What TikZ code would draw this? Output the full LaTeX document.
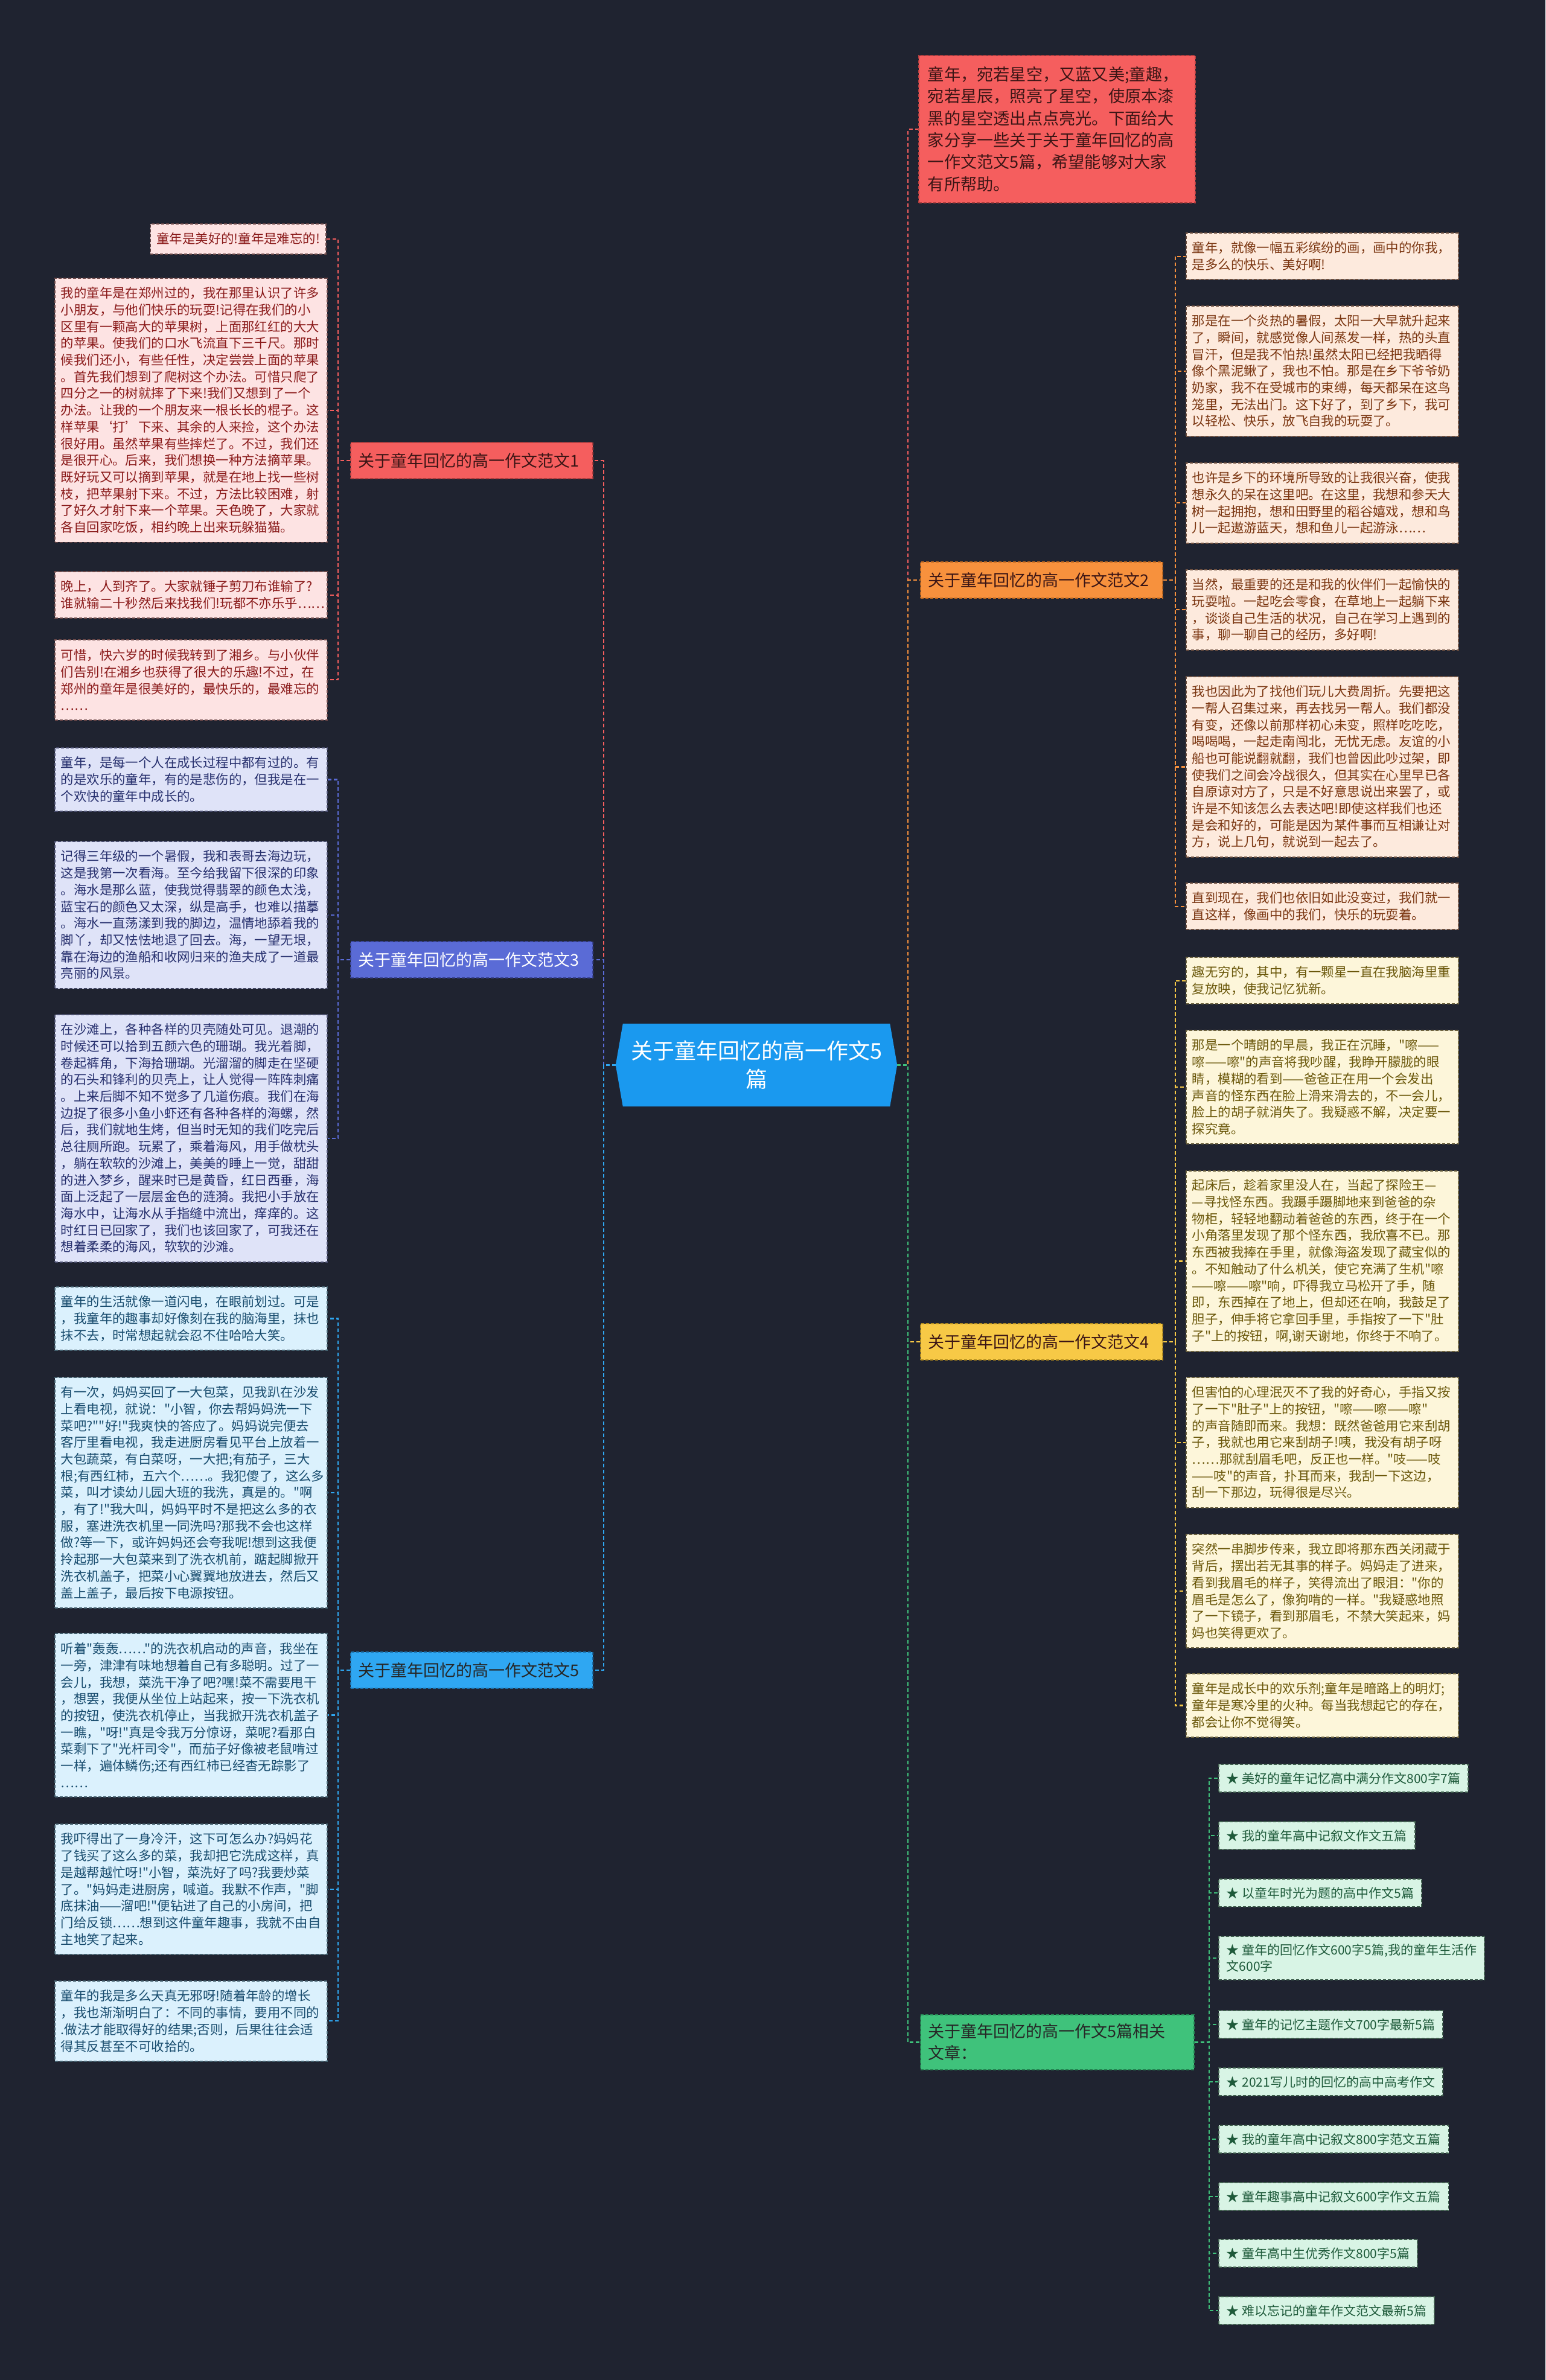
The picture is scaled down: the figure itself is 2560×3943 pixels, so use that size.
\documentclass[tikz,border=0pt]{standalone}
\usepackage{fontspec}
\setmainfont{Noto Sans CJK SC}[Ligatures=TeXOff]
\pgfdeclarelayer{bglayer}
\pgfdeclarelayer{linelayer}
\pgfsetlayers{bglayer,linelayer,main}
\definecolor{bgc}{HTML}{1F2330}
\definecolor{c1}{HTML}{F55E5E}\definecolor{c1d}{HTML}{B23E3E}
\definecolor{c2}{HTML}{F7913D}\definecolor{c2d}{HTML}{B8651F}
\definecolor{c3}{HTML}{5A6BD6}\definecolor{c3d}{HTML}{3A4599}
\definecolor{c4}{HTML}{F7C946}\definecolor{c4d}{HTML}{B08A1E}
\definecolor{c5}{HTML}{2FA7F2}\definecolor{c5d}{HTML}{1C6FA8}
\definecolor{c6}{HTML}{3FC27B}\definecolor{c6d}{HTML}{258552}
\definecolor{cfill}{HTML}{1A99EF}
\definecolor{fA}{HTML}{FDE3E3}\definecolor{tA}{HTML}{8A1A1A}\definecolor{dA}{HTML}{6E4A4A}
\definecolor{fC}{HTML}{DFE3F8}\definecolor{tC}{HTML}{27306E}\definecolor{dC}{HTML}{4A4E6E}
\definecolor{fE}{HTML}{DBF1FD}\definecolor{tE}{HTML}{184C6E}\definecolor{dE}{HTML}{44606E}
\definecolor{fB}{HTML}{FDEADD}\definecolor{tB}{HTML}{7A3510}\definecolor{dB}{HTML}{6E5040}
\definecolor{fD}{HTML}{FDF6DA}\definecolor{tD}{HTML}{6A570A}\definecolor{dD}{HTML}{6E6440}
\definecolor{fG}{HTML}{D8F4E5}\definecolor{tG}{HTML}{1E5A3A}\definecolor{dG}{HTML}{40604E}
\definecolor{darktxt}{HTML}{3B1515}
\tikzset{
  con/.style={draw=#1, line width=2.2pt, dash pattern=on 6pt off 4pt},
  leafbase/.style={rectangle, line width=1.8pt, dash pattern=on 5pt off 3pt, inner xsep=10pt, inner ysep=5pt, align=left, text width=431pt, font=\fontsize{21.4pt}{27.7pt}\selectfont, anchor=north west},
  nlines/.style={minimum height=#1*27.7pt+22pt},
  leafA/.style={leafbase, fill=fA, draw=dA, text=tA},
  leafC/.style={leafbase, fill=fC, draw=dC, text=tC},
  leafE/.style={leafbase, fill=fE, draw=dE, text=tE},
  leafB/.style={leafbase, fill=fB, draw=dB, text=tB},
  leafD/.style={leafbase, fill=fD, draw=dD, text=tD},
  relitem/.style={rectangle, line width=1.8pt, dash pattern=on 5pt off 3pt, fill=fG, draw=dG, text=tG, inner xsep=13pt, inner ysep=13pt, align=left, font=\fontsize{21pt}{27pt}\selectfont, anchor=west},
  branch/.style={rectangle, line width=1.8pt, dash pattern=on 5pt off 3pt, inner xsep=13pt, inner ysep=6pt, minimum height=60pt, text width=375pt, align=left, font=\fontsize{27pt}{36pt}\selectfont},
  centerbox/.style={rectangle, inner sep=0pt, minimum width=466pt, minimum height=137pt, align=center, text=white, font=\fontsize{36pt}{47pt}\selectfont},
}
\begin{document}
\begin{tikzpicture}[x=1pt,y=-1pt]
\useasboundingbox (0,0) rectangle (2560,3943);
\begin{pgfonlayer}{bglayer}
\fill[bgc] (0,0) rectangle (2560,3943);
\end{pgfonlayer}

% center
\node[centerbox] (c) at (1253,1764.5) {关于童年回忆的高一作文5\\篇};

% intro
\node[rectangle, line width=1.8pt, dash pattern=on 5pt off 3pt, fill=c1, draw=c1d, text=darktxt, anchor=north west, inner xsep=15pt, inner ysep=6pt, text width=428pt, minimum height=244pt, align=left, font=\fontsize{27.2pt}{36.3pt}\selectfont] (intro) at (1521,91) {童年，宛若星空，又蓝又美;童趣，\\宛若星辰，照亮了星空，使原本漆\\黑的星空透出点点亮光。下面给大\\家分享一些关于关于童年回忆的高\\一作文范文5篇，希望能够对大家\\有所帮助。};

% branches
\node[branch, fill=c1, draw=c1d, text=darktxt, anchor=west] (b1) at (580,763) {关于童年回忆的高一作文范文1};
\node[branch, fill=c3, draw=c3d, text=white, anchor=west] (b3) at (580,1590) {关于童年回忆的高一作文范文3};
\node[branch, fill=c5, draw=c5d, text=black!85, anchor=west] (b5) at (580,2767) {关于童年回忆的高一作文范文5};
\node[branch, fill=c2, draw=c2d, text=darktxt, anchor=west] (b2) at (1524,961) {关于童年回忆的高一作文范文2};
\node[branch, fill=c4, draw=c4d, text=darktxt, anchor=west] (b4) at (1524,2223) {关于童年回忆的高一作文范文4};
\node[branch, fill=c6, draw=c6d, text=black!85, anchor=north west, text width=427pt, minimum height=91pt] (rel) at (1524,3337) {关于童年回忆的高一作文5篇相关\\文章：};

% branch 1 leaves
\node[leafA, nlines=1, text width={}, anchor=north east] (l1a) at (541,370) {童年是美好的!童年是难忘的!};
\node[leafA, nlines=15] (l1b) at (90,460) {我的童年是在郑州过的，我在那里认识了许多\\小朋友，与他们快乐的玩耍!记得在我们的小\\区里有一颗高大的苹果树，上面那红红的大大\\的苹果。使我们的口水飞流直下三千尺。那时\\候我们还小，有些任性，决定尝尝上面的苹果\\。首先我们想到了爬树这个办法。可惜只爬了\\四分之一的树就摔了下来!我们又想到了一个\\办法。让我的一个朋友来一根长长的棍子。这\\样苹果‘打’下来、其余的人来捡，这个办法\\很好用。虽然苹果有些摔烂了。不过，我们还\\是很开心。后来，我们想换一种方法摘苹果。\\既好玩又可以摘到苹果，就是在地上找一些树\\枝，把苹果射下来。不过，方法比较困难，射\\了好久才射下来一个苹果。天色晚了，大家就\\各自回家吃饭，相约晚上出来玩躲猫猫。};
\node[leafA, nlines=2] (l1c) at (90,946) {晚上，人到齐了。大家就锤子剪刀布谁输了?\\谁就输二十秒然后来找我们!玩都不亦乐乎……};
\node[leafA, nlines=4] (l1d) at (90,1059) {可惜，快六岁的时候我转到了湘乡。与小伙伴\\们告别!在湘乡也获得了很大的乐趣!不过，在\\郑州的童年是很美好的，最快乐的，最难忘的\\……};

% branch 3 leaves
\node[leafC, nlines=3] (l3a) at (90,1238) {童年，是每一个人在成长过程中都有过的。有\\的是欢乐的童年，有的是悲伤的，但我是在一\\个欢快的童年中成长的。};
\node[leafC, nlines=8] (l3b) at (90,1393) {记得三年级的一个暑假，我和表哥去海边玩，\\这是我第一次看海。至今给我留下很深的印象\\。海水是那么蓝，使我觉得翡翠的颜色太浅，\\蓝宝石的颜色又太深，纵是高手，也难以描摹\\。海水一直荡漾到我的脚边，温情地舔着我的\\脚丫，却又怯怯地退了回去。海，一望无垠，\\靠在海边的渔船和收网归来的渔夫成了一道最\\亮丽的风景。};
\node[leafC, nlines=14] (l3c) at (90,1680) {在沙滩上，各种各样的贝壳随处可见。退潮的\\时候还可以拾到五颜六色的珊瑚。我光着脚，\\卷起裤角，下海拾珊瑚。光溜溜的脚走在坚硬\\的石头和锋利的贝壳上，让人觉得一阵阵刺痛\\。上来后脚不知不觉多了几道伤痕。我们在海\\边捉了很多小鱼小虾还有各种各样的海螺，然\\后，我们就地生烤，但当时无知的我们吃完后\\总往厕所跑。玩累了，乘着海风，用手做枕头\\，躺在软软的沙滩上，美美的睡上一觉，甜甜\\的进入梦乡，醒来时已是黄昏，红日西垂，海\\面上泛起了一层层金色的涟漪。我把小手放在\\海水中，让海水从手指缝中流出，痒痒的。这\\时红日已回家了，我们也该回家了，可我还在\\想着柔柔的海风，软软的沙滩。};

% branch 5 leaves
\node[leafE, nlines=3] (l5a) at (90,2131) {童年的生活就像一道闪电，在眼前划过。可是\\，我童年的趣事却好像刻在我的脑海里，抹也\\抹不去，时常想起就会忍不住哈哈大笑。};
\node[leafE, nlines=13] (l5b) at (90,2281) {有一次，妈妈买回了一大包菜，见我趴在沙发\\上看电视，就说："小智，你去帮妈妈洗一下\\菜吧?""好!"我爽快的答应了。妈妈说完便去\\客厅里看电视，我走进厨房看见平台上放着一\\大包蔬菜，有白菜呀，一大把;有茄子，三大\\根;有西红柿，五六个……。我犯傻了，这么多\\菜，叫才读幼儿园大班的我洗，真是的。"啊\\，有了!"我大叫，妈妈平时不是把这么多的衣\\服，塞进洗衣机里一同洗吗?那我不会也这样\\做?等一下，或许妈妈还会夸我呢!想到这我便\\拎起那一大包菜来到了洗衣机前，踮起脚掀开\\洗衣机盖子，把菜小心翼翼地放进去，然后又\\盖上盖子，最后按下电源按钮。};
\node[leafE, nlines=9] (l5c) at (90,2705) {听着"轰轰……"的洗衣机启动的声音，我坐在\\一旁，津津有味地想着自己有多聪明。过了一\\会儿，我想，菜洗干净了吧?嘿!菜不需要甩干\\，想罢，我便从坐位上站起来，按一下洗衣机\\的按钮，使洗衣机停止，当我掀开洗衣机盖子\\一瞧，"呀!"真是令我万分惊讶，菜呢?看那白\\菜剩下了"光杆司令"，而茄子好像被老鼠啃过\\一样，遍体鳞伤;还有西红柿已经杳无踪影了\\……};
\node[leafE, nlines=7] (l5d) at (90,3021) {我吓得出了一身冷汗，这下可怎么办?妈妈花\\了钱买了这么多的菜，我却把它洗成这样，真\\是越帮越忙呀!"小智，菜洗好了吗?我要炒菜\\了。"妈妈走进厨房，喊道。我默不作声，"脚\\底抹油——溜吧!"便钻进了自己的小房间，把\\门给反锁……想到这件童年趣事，我就不由自\\主地笑了起来。};
\node[leafE, nlines=4] (l5e) at (90,3281) {童年的我是多么天真无邪呀!随着年龄的增长\\，我也渐渐明白了：不同的事情，要用不同的\\.做法才能取得好的结果;否则，后果往往会适\\得其反甚至不可收拾的。};

% branch 2 leaves
\node[leafB, nlines=2] (r2a) at (1964,385) {童年，就像一幅五彩缤纷的画，画中的你我，\\是多么的快乐、美好啊!};
\node[leafB, nlines=7] (r2b) at (1964,506) {那是在一个炎热的暑假，太阳一大早就升起来\\了，瞬间，就感觉像人间蒸发一样，热的头直\\冒汗，但是我不怕热!虽然太阳已经把我晒得\\像个黑泥鳅了，我也不怕。那是在乡下爷爷奶\\奶家，我不在受城市的束缚，每天都呆在这鸟\\笼里，无法出门。这下好了，到了乡下，我可\\以轻松、快乐，放飞自我的玩耍了。};
\node[leafB, nlines=4] (r2c) at (1964,766) {也许是乡下的环境所导致的让我很兴奋，使我\\想永久的呆在这里吧。在这里，我想和参天大\\树一起拥抱，想和田野里的稻谷嬉戏，想和鸟\\儿一起遨游蓝天，想和鱼儿一起游泳……};
\node[leafB, nlines=4] (r2d) at (1964,943) {当然，最重要的还是和我的伙伴们一起愉快的\\玩耍啦。一起吃会零食，在草地上一起躺下来\\，谈谈自己生活的状况，自己在学习上遇到的\\事，聊一聊自己的经历，多好啊!};
\node[leafB, nlines=10] (r2e) at (1964,1120) {我也因此为了找他们玩儿大费周折。先要把这\\一帮人召集过来，再去找另一帮人。我们都没\\有变，还像以前那样初心未变，照样吃吃吃，\\喝喝喝，一起走南闯北，无忧无虑。友谊的小\\船也可能说翻就翻，我们也曾因此吵过架，即\\使我们之间会冷战很久，但其实在心里早已各\\自原谅对方了，只是不好意思说出来罢了，或\\许是不知该怎么去表达吧!即使这样我们也还\\是会和好的，可能是因为某件事而互相谦让对\\方，说上几句，就说到一起去了。};
\node[leafB, nlines=2] (r2f) at (1964,1462) {直到现在，我们也依旧如此没变过，我们就一\\直这样，像画中的我们，快乐的玩耍着。};

% branch 4 leaves
\node[leafD, nlines=2] (r4a) at (1964,1585) {趣无穷的，其中，有一颗星一直在我脑海里重\\复放映，使我记忆犹新。};
\node[leafD, nlines=6] (r4b) at (1964,1706) {那是一个晴朗的早晨，我正在沉睡，"嚓——\\嚓——嚓"的声音将我吵醒，我睁开朦胧的眼\\睛，模糊的看到——爸爸正在用一个会发出\\声音的怪东西在脸上滑来滑去的，不一会儿，\\脸上的胡子就消失了。我疑惑不解，决定要一\\探究竟。};
\node[leafD, nlines=10] (r4c) at (1964,1939) {起床后，趁着家里没人在，当起了探险王—\\—寻找怪东西。我蹑手蹑脚地来到爸爸的杂\\物柜，轻轻地翻动着爸爸的东西，终于在一个\\小角落里发现了那个怪东西，我欣喜不已。那\\东西被我捧在手里，就像海盗发现了藏宝似的\\。不知触动了什么机关，使它充满了生机"嚓\\——嚓——嚓"响，吓得我立马松开了手，随\\即，东西掉在了地上，但却还在响，我鼓足了\\胆子，伸手将它拿回手里，手指按了一下"肚\\子"上的按钮，啊,谢天谢地，你终于不响了。};
\node[leafD, nlines=7] (r4d) at (1964,2281) {但害怕的心理泯灭不了我的好奇心，手指又按\\了一下"肚子"上的按钮，"嚓——嚓——嚓"\\的声音随即而来。我想：既然爸爸用它来刮胡\\子，我就也用它来刮胡子!咦，我没有胡子呀\\……那就刮眉毛吧，反正也一样。"吱——吱\\——吱"的声音，扑耳而来，我刮一下这边，\\刮一下那边，玩得很是尽兴。};
\node[leafD, nlines=6] (r4e) at (1964,2541) {突然一串脚步传来，我立即将那东西关闭藏于\\背后，摆出若无其事的样子。妈妈走了进来，\\看到我眉毛的样子，笑得流出了眼泪："你的\\眉毛是怎么了，像狗啃的一样。"我疑惑地照\\了一下镜子，看到那眉毛，不禁大笑起来，妈\\妈也笑得更欢了。};
\node[leafD, nlines=3] (r4f) at (1964,2772) {童年是成长中的欢乐剂;童年是暗路上的明灯;\\童年是寒冷里的火种。每当我想起它的存在，\\都会让你不觉得笑。};

% related
\node[relitem] (k1) at (2018,2946) {★ 美好的童年记忆高中满分作文800字7篇};
\node[relitem] (k2) at (2018,3041) {★ 我的童年高中记叙文作文五篇};
\node[relitem] (k3) at (2018,3136) {★ 以童年时光为题的高中作文5篇};
\node[relitem] (k4) at (2018,3244) {★ 童年的回忆作文600字5篇,我的童年生活作\\文600字};
\node[relitem] (k5) at (2018,3354) {★ 童年的记忆主题作文700字最新5篇};
\node[relitem] (k6) at (2018,3449) {★ 2021写儿时的回忆的高中高考作文};
\node[relitem] (k7) at (2018,3544) {★ 我的童年高中记叙文800字范文五篇};
\node[relitem] (k8) at (2018,3639) {★ 童年趣事高中记叙文600字作文五篇};
\node[relitem] (k9) at (2018,3733) {★ 童年高中生优秀作文800字5篇};
\node[relitem] (k10) at (2018,3828) {★ 难以忘记的童年作文范文最新5篇};

\begin{pgfonlayer}{linelayer}
\draw[con=c1] (c.west) -- ++(-20,0) |- (b1.east);
\draw[con=c3] (c.west) -- ++(-20,0) |- (b3.east);
\draw[con=c5] (c.west) -- ++(-20,0) |- (b5.east);
\draw[con=c1] (c.east) -- ++(18,0) |- (intro.west);
\draw[con=c2] (c.east) -- ++(18,0) |- (b2.west);
\draw[con=c4] (c.east) -- ++(18,0) |- (b4.west);
\draw[con=c6] (c.east) -- ++(18,0) |- (rel.west);
\foreach \n in {l1a,l1b,l1c,l1d} \draw[con=c1] (b1.west) -- ++(-20,0) |- (\n.east);
\foreach \n in {l3a,l3b,l3c} \draw[con=c3] (b3.west) -- ++(-20,0) |- (\n.east);
\foreach \n in {l5a,l5b,l5c,l5d,l5e} \draw[con=c5] (b5.west) -- ++(-20,0) |- (\n.east);
\foreach \n in {r2a,r2b,r2c,r2d,r2e,r2f} \draw[con=c2] (b2.east) -- ++(20,0) |- (\n.west);
\foreach \n in {r4a,r4b,r4c,r4d,r4e,r4f} \draw[con=c4] (b4.east) -- ++(20,0) |- (\n.west);
\foreach \n in {k1,k2,k3,k4,k5,k6,k7,k8,k9,k10} \draw[con=c6] (rel.east) -- ++(24,0) |- (\n.west);
\fill[cfill] (c.west) -- ([xshift=12pt]c.north west) -- ([xshift=-12pt]c.north east) -- (c.east) -- ([xshift=-12pt]c.south east) -- ([xshift=12pt]c.south west) -- cycle;
\end{pgfonlayer}
\end{tikzpicture}
\end{document}
